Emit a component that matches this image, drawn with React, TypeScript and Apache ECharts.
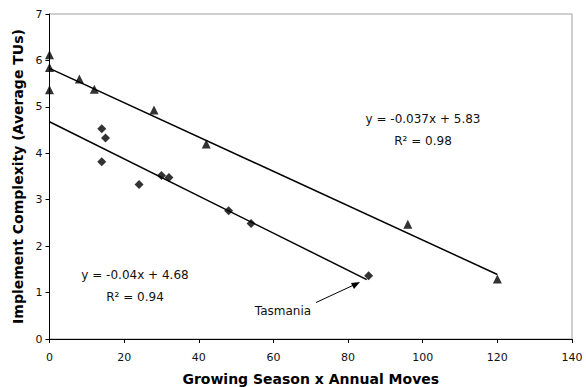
import React, { useEffect, useRef } from "react";
import * as echarts from "echarts";

const triangleX = [0, 0, 0, 8, 12, 28, 42, 96, 120];
const triangleY = [6.12, 5.85, 5.37, 5.6, 5.38, 4.93, 4.2, 2.47, 1.29];
const diamondX = [14, 15, 14, 24, 30, 32, 48, 54, 85.5];
const diamondY = [4.53, 4.33, 3.82, 3.33, 3.52, 3.48, 2.76, 2.49, 1.36];
const upperFit = { slope: -0.037, intercept: 5.83, xEnd: 120 };
const lowerFit = { slope: -0.04, intercept: 4.68, xEnd: 85 };
const xTicks = [0, 20, 40, 60, 80, 100, 120, 140];
const yTicks = [0, 1, 2, 3, 4, 5, 6, 7];

const FONT = "DejaVu Sans";

export default function App() {
  const ref = useRef<HTMLDivElement>(null);
  useEffect(() => {
    if (!ref.current) return;
    const chart = echarts.init(ref.current, undefined, { renderer: "svg" });
    const fitLine = (f: { slope: number; intercept: number; xEnd: number }) => [
      [0, f.intercept],
      [f.xEnd, f.slope * f.xEnd + f.intercept],
    ];
    const textStyle = {
      fill: "#111",
      font: `12px "${FONT}"`,
      textAlign: "center",
      textVerticalAlign: "middle",
    };
    chart.setOption({
      animation: false,
      backgroundColor: "#fff",
      grid: {
        left: 49.5,
        right: 14,
        top: 14,
        bottom: 48,
        containLabel: false,
        outerBoundsMode: "none",
        show: true,
        borderColor: "#a0a0a0",
        borderWidth: 1,
      },
      xAxis: {
        type: "value",
        min: xTicks[0],
        max: xTicks[xTicks.length - 1],
        interval: 20,
        name: "Growing Season x Annual Moves",
        nameLocation: "middle",
        nameGap: 33,
        nameTextStyle: { fontFamily: FONT, fontWeight: "bold", fontSize: 14, color: "#000" },
        axisLine: { show: true, lineStyle: { color: "#000", width: 1 } },
        axisTick: { show: true, inside: false, length: 4, lineStyle: { color: "#000" } },
        axisLabel: { fontFamily: FONT, fontSize: 11, color: "#111", margin: 13 },
        splitLine: { show: false },
      },
      yAxis: {
        type: "value",
        min: yTicks[0],
        max: yTicks[yTicks.length - 1],
        interval: 1,
        name: "Implement Complexity (Average TUs)",
        nameLocation: "middle",
        nameGap: 25,
        nameRotate: 90,
        nameTextStyle: { fontFamily: FONT, fontWeight: "bold", fontSize: 14, color: "#000" },
        axisLine: { show: true, lineStyle: { color: "#000", width: 1 } },
        axisTick: { show: true, inside: false, length: 4, lineStyle: { color: "#000" } },
        axisLabel: { fontFamily: FONT, fontSize: 11, color: "#111", margin: 7 },
        splitLine: { show: false },
      },
      series: [
        {
          type: "line",
          data: fitLine(upperFit),
          showSymbol: false,
          lineStyle: { color: "#000", width: 1.5 },
          z: 1,
        },
        {
          type: "line",
          data: fitLine(lowerFit),
          showSymbol: false,
          lineStyle: { color: "#000", width: 1.5 },
          z: 1,
        },
        {
          type: "scatter",
          data: triangleX.map((x, i) => [x, triangleY[i]]),
          symbol: "triangle",
          symbolSize: 9,
          itemStyle: { color: "#000" },
          z: 3,
        },
        {
          type: "scatter",
          data: diamondX.map((x, i) => [x, diamondY[i]]),
          symbol: "diamond",
          symbolSize: 9,
          itemStyle: { color: "#000" },
          z: 3,
        },
      ],
      graphic: [
        { type: "text", x: 423, y: 119, style: { ...textStyle, text: "y = -0.037x + 5.83" } },
        { type: "text", x: 423, y: 141, style: { ...textStyle, text: "R² = 0.98" } },
        { type: "text", x: 135, y: 275, style: { ...textStyle, text: "y = -0.04x + 4.68" } },
        { type: "text", x: 135, y: 297, style: { ...textStyle, text: "R² = 0.94" } },
        { type: "text", x: 283, y: 311, style: { ...textStyle, text: "Tasmania" } },
        {
          type: "line",
          shape: { x1: 316, y1: 302.5, x2: 356, y2: 284 },
          style: { stroke: "#000", lineWidth: 1 },
        },
        {
          type: "polygon",
          shape: { points: [[360, 282], [351, 283], [354, 289]] },
          style: { fill: "#000" },
        },
      ],
    });
    return () => chart.dispose();
  }, []);
  return (
    <div
      ref={ref}
      style={{ position: "fixed", left: 0, top: 0, width: 586, height: 387 }}
    />
  );
}
